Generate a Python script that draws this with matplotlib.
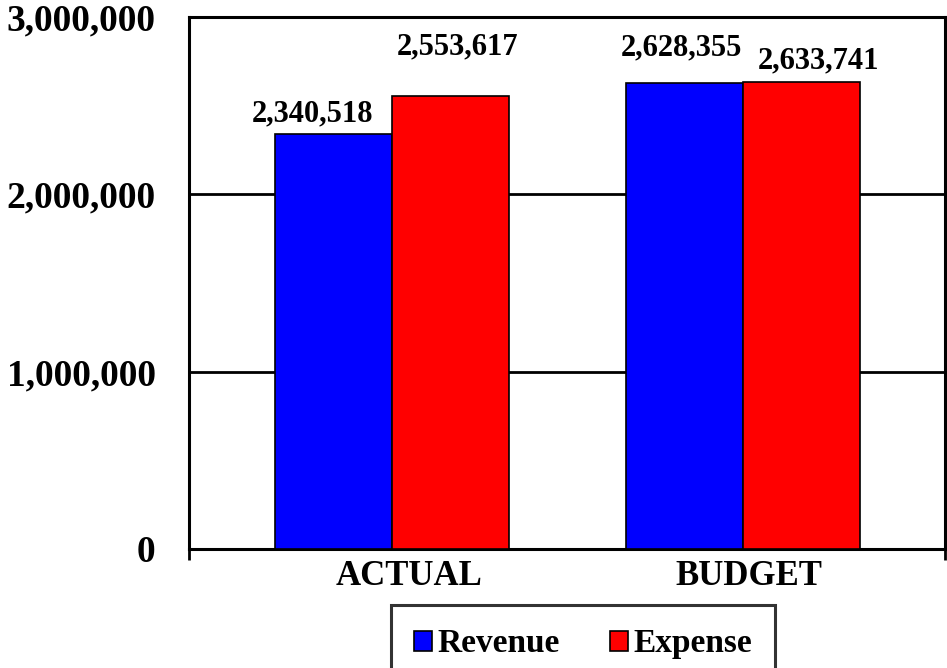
import matplotlib.pyplot as plt
import numpy as np

plt.rcParams["font.family"] = "Liberation Serif"
plt.rcParams["font.weight"] = "bold"

categories = ['ACTUAL', 'BUDGET']
revenue = [2340518, 2628355]
expense = [2553617, 2633741]
series_names = ['Revenue', 'Expense']
yticks = [0, 1000000, 2000000, 3000000]

# label offsets in pixels (dx, dy above bar top), same order as bars drawn
label_offsets = [(-21, 20), (-3, 35), (7, 49), (17, 21)]
# category label nudges in pixels
cat_offsets = [17, 6]

fig = plt.figure(figsize=(9.47, 6.68), dpi=100)
ax = fig.add_axes([189 / 947, 1 - 549 / 668, (945 - 189) / 947, (549 - 17) / 668])

x = np.arange(len(categories))
w = 0.333
b1 = ax.bar(x - w / 2, revenue, w, color='#0000FF', edgecolor='black', linewidth=1.2, zorder=3, label=series_names[0])
b2 = ax.bar(x + w / 2, expense, w, color='#FF0000', edgecolor='black', linewidth=1.2, zorder=3, label=series_names[1])

bars = list(b1) + list(b2)
for bar, (dx, dy) in zip(bars, label_offsets):
    val = bar.get_height()
    ax.annotate('{:,}'.format(int(val)), xy=(bar.get_x() + bar.get_width() / 2, val),
                xytext=(dx * 0.72, dy * 0.72), textcoords='offset points',
                ha='center', va='center', fontsize=22, fontweight='bold')

ax.set_ylim(0, 3000000)
ax.set_xlim(-0.578, 1.575)
ax.set_yticks(yticks)
ax.set_yticklabels(['{:,}'.format(v) for v in yticks], fontsize=27, fontweight='bold')
ax.set_xticks(x)
ax.set_xticklabels([])
for xi, cat, off in zip(x, categories, cat_offsets):
    ax.annotate(cat, xy=(xi, 0), xycoords=('data', 'axes fraction'),
                xytext=(off * 0.72, -8), textcoords='offset points',
                ha='center', va='top', fontsize=25, fontweight='bold')
ax.tick_params(axis='y', length=0, pad=24)
ax.tick_params(axis='x', which='major', length=0)
ax.set_xticks([-0.578, 1.575], minor=True)
ax.tick_params(axis='x', which='minor', length=8, width=2, direction='out')

ax.yaxis.grid(True, color='black', linewidth=2, zorder=1)
ax.set_axisbelow(True)
for s in ax.spines.values():
    s.set_linewidth(2.2)
    s.set_color('black')

leg = fig.legend(loc='upper center', bbox_to_anchor=(583 / 947, 1 - 605 / 668), ncol=2,
                 prop={'family': 'Liberation Serif', 'weight': 'bold', 'size': 24},
                 frameon=True, fancybox=False, edgecolor='black', borderpad=0.7,
                 handlelength=0.55, handleheight=0.55, handletextpad=0.15, columnspacing=1.5,
                 borderaxespad=0)
leg.get_frame().set_linewidth(2.2)

fig.savefig('out.png', dpi=100)
